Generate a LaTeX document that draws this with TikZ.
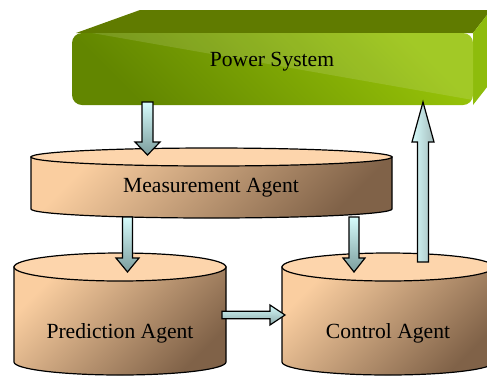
\documentclass[tikz,border=0pt]{standalone}
\usepackage{fontspec}
\setmainfont{Liberation Serif}
\usetikzlibrary{calc}

\definecolor{agentlight}{RGB}{250,206,160}
\definecolor{agentdark}{RGB}{128,98,72}
\definecolor{agenttop}{RGB}{253,213,172}
\definecolor{arrowlight}{RGB}{214,252,252}
\definecolor{arrowdark}{RGB}{90,132,132}
\definecolor{psdark}{RGB}{98,134,0}
\definecolor{pslight}{RGB}{150,194,8}
\definecolor{pstop}{RGB}{96,123,0}
\definecolor{psside}{RGB}{142,188,12}

\tikzset{every picture/.style={line width=1.2pt},
  agentbody/.style={draw=black, top color=agentlight, bottom color=agentdark, shading angle=45},
  agentlid/.style={draw=black, fill=agenttop},
  downarrow/.style={draw=black, top color=arrowlight, bottom color=arrowdark!80},
  uparrow/.style={draw=black, left color=arrowlight, right color=arrowdark!55},
  rightarrow/.style={draw=black, top color=arrowlight, bottom color=arrowdark!70},
  agenttext/.style={font=\fontsize{21.6}{26}\selectfont}
}

\begin{document}
\begin{tikzpicture}[x=1pt,y=1pt,yscale=-1,xscale=1]
	\useasboundingbox (0,0) rectangle (487,376);
	\clip (0,0) rectangle (487,376);

	%Shape: Power System box, top face
	\fill[pstop] (76,33) -- (140,10) -- (491,10) -- (473,33) -- cycle ;
	%Shape: Power System box, side face
	\fill[psside] (473,33) -- (491,10) -- (491,82) -- (473,105) -- cycle ;
	%Shape: Power System box, front face
	\shade[top color=pslight, bottom color=psdark, shading angle=-45, rounded corners=10] (72,33) rectangle (473,105) ;
	\fill[white, fill opacity=0.12] (92,33) -- (463,33) .. controls (470,33) and (473,36) .. (473,43) -- (473,100) -- cycle ;
	\node[agenttext] (ps) at (272,62) {Power System};

	%Shape: Measurement Agent cylinder
	\shade[agentbody] (31,157) -- (31,209) arc[start angle=180, end angle=0, x radius=180.5, y radius=9] -- (392,157) -- cycle ;
	\draw[agentlid] (211.5,157) ellipse [x radius=180.5, y radius=9] ;
	\node[agenttext] (ma) at (211,188) {Measurement Agent};

	%Shape: Prediction Agent cylinder
	\shade[agentbody] (14,267) -- (14,362) arc[start angle=180, end angle=0, x radius=106, y radius=13] -- (226,267) -- cycle ;
	\draw[agentlid] (120,267) ellipse [x radius=106, y radius=14] ;
	\node[agenttext] (pa) at (120,333) {Prediction Agent};

	%Shape: Control Agent cylinder
	\shade[agentbody] (282,267) -- (282,362) arc[start angle=180, end angle=0, x radius=106, y radius=13] -- (494,267) -- cycle ;
	\draw[agentlid] (388,267) ellipse [x radius=106, y radius=14] ;
	\node[agenttext] (ca) at (388,333) {Control Agent};

	% arrow ends
	\coordinate (ps-out) at (147.5,102);
	\coordinate (ma-in) at (147.5,155);
	\coordinate (ma-out1) at (127.5,217);
	\coordinate (pa-in) at (127.5,272);
	\coordinate (ma-out2) at (354,217);
	\coordinate (ca-in) at (354,272);
	\coordinate (ca-out) at (423,262);
	\coordinate (ps-in) at (423,102);
	\coordinate (pa-out) at (222,315);
	\coordinate (ca-in2) at (285,315);

	%Shape: Down Arrow
	\shade[downarrow] let \p1=(ps-out), \p2=(ma-in) in (\x1-5.5pt,\y1) -- (\x1+5.5pt,\y1) -- (\x1+5.5pt,\y2-13pt) -- (\x1+12.5pt,\y2-13pt) -- (\x2,\y2) -- (\x1-12.5pt,\y2-13pt) -- (\x1-5.5pt,\y2-13pt) -- cycle ;
	%Shape: Down Arrow
	\shade[downarrow] let \p1=(ma-out1), \p2=(pa-in) in (\x1-5pt,\y1) -- (\x1+5pt,\y1) -- (\x1+5pt,\y2-14pt) -- (\x1+11.5pt,\y2-14pt) -- (\x2,\y2) -- (\x1-11.5pt,\y2-14pt) -- (\x1-5pt,\y2-14pt) -- cycle ;
	%Shape: Down Arrow
	\shade[downarrow] let \p1=(ma-out2), \p2=(ca-in) in (\x1-5pt,\y1) -- (\x1+5pt,\y1) -- (\x1+5pt,\y2-14pt) -- (\x1+11pt,\y2-14pt) -- (\x2,\y2) -- (\x1-11pt,\y2-14pt) -- (\x1-5pt,\y2-14pt) -- cycle ;
	%Shape: Up Arrow
	\shade[uparrow] let \p1=(ca-out), \p2=(ps-in) in (\x1-5.5pt,\y1) -- (\x1+5.5pt,\y1) -- (\x1+5.5pt,\y2+40pt) -- (\x1+11pt,\y2+40pt) -- (\x2,\y2) -- (\x1-11pt,\y2+40pt) -- (\x1-5.5pt,\y2+40pt) -- cycle ;
	%Shape: Right Arrow
	\shade[rightarrow] let \p1=(pa-out), \p2=(ca-in2) in (\x1,\y1+3.7pt) -- (\x2-15pt,\y1+3.7pt) -- (\x2-15pt,\y1+10pt) -- (\x2,\y2) -- (\x2-15pt,\y1-10pt) -- (\x2-15pt,\y1-3.7pt) -- (\x1,\y1-3.7pt) -- cycle ;

\end{tikzpicture}
\end{document}
